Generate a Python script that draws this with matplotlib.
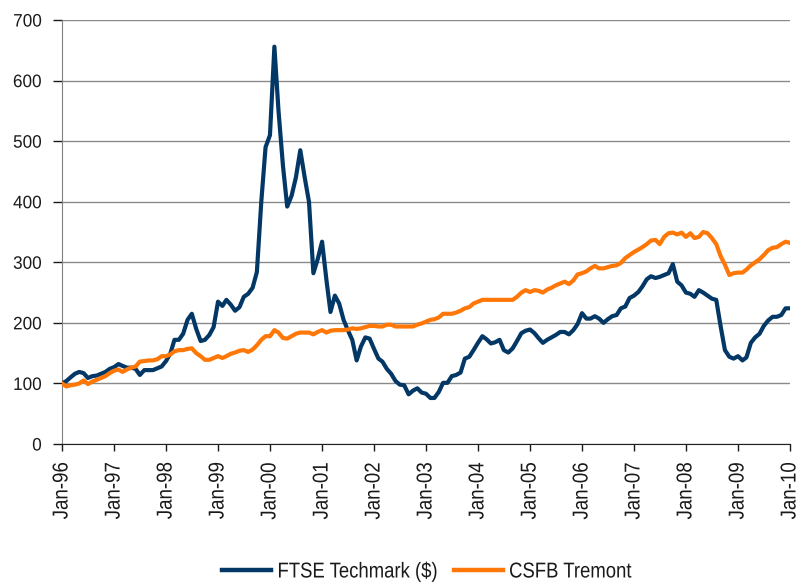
import matplotlib
matplotlib.use("Agg")
import matplotlib.pyplot as plt
import matplotlib.dates as mdates
from matplotlib.patheffects import AbstractPathEffect
from matplotlib.transforms import Affine2D
import pandas as pd

start_month = "1996-01-01"
n_months = 169

ftse_techmark = [
    100, 104, 110, 116, 119, 117, 109, 112, 113, 116, 119, 124,
    127, 132, 129, 126, 126, 124, 114, 122, 122, 122, 125, 128,
    137, 150, 172, 172, 182, 205, 215, 190, 170, 172, 180, 193,
    235, 228, 238, 230, 220, 226, 243, 248, 258, 284, 400, 490,
    510, 656, 550, 460, 392, 410, 440, 485, 440, 400, 282, 305,
    334, 270, 218, 245, 232, 205, 188, 172, 138, 161, 176, 174,
    157, 141, 136, 124, 116, 104, 98, 97, 82, 88, 92, 85,
    83, 76, 76, 86, 101, 101, 112, 114, 118, 141, 144, 155,
    167, 178, 173, 166, 168, 172, 155, 151, 158, 170, 183, 187,
    189, 183, 175, 167, 172, 176, 180, 185, 185, 181, 188, 198,
    216, 207, 207, 211, 207, 200, 206, 211, 213, 224, 227, 241,
    245, 251, 260, 272, 277, 274, 276, 279, 282, 297, 268, 262,
    250, 248, 243, 254, 250, 245, 240, 238, 194, 155, 144, 141,
    145, 138, 143, 167, 176, 182, 195, 204, 210, 210, 213, 224,
    224,
]

csfb_tremont = [
    100, 95, 97, 98, 100, 105, 99, 103, 106, 109, 112, 117,
    121, 123, 119, 123, 126, 128, 136, 137, 138, 138, 140, 145,
    145, 148, 153, 155, 155, 157, 158, 150, 145, 139, 139, 142,
    145, 142, 145, 149, 151, 154, 155, 152, 156, 163, 172, 178,
    178, 188, 184, 175, 174, 178, 182, 184, 184, 184, 181, 185,
    188, 184, 187, 188, 188, 188, 189, 191, 190, 191, 193, 195,
    195, 194, 194, 197, 197, 194, 194, 194, 194, 194, 197, 199,
    202, 205, 206, 209, 215, 215, 215, 217, 220, 224, 226, 232,
    235, 238, 238, 238, 238, 238, 238, 238, 238, 243, 250, 254,
    251, 254, 253, 250, 255, 258, 262, 265, 268, 264, 270, 280,
    282, 285, 290, 294, 290, 290, 292, 294, 295, 299, 307, 312,
    317, 321, 325, 330, 336, 337, 330, 342, 348, 349, 346, 349,
    342, 348, 340, 342, 350, 348, 340, 330, 310, 296, 279, 282,
    283, 283, 288, 295, 300, 305, 312, 320, 324, 325, 330, 334,
    332,
]

series_names = ["FTSE Techmark ($)", "CSFB Tremont"]
y_ticks = [0, 100, 200, 300, 400, 500, 600, 700]

dates = pd.date_range(start_month, periods=n_months, freq="MS")


class Squeeze(AbstractPathEffect):
    """Draw text glyphs horizontally condensed (narrow-font look)."""

    def __init__(self, sx, anchor="left"):
        super().__init__()
        self.sx = sx
        self.anchor = anchor

    def draw_path(self, renderer, gc, tpath, affine, rgbFace=None):
        ext = tpath.get_extents()
        if self.anchor == "right":
            x0 = ext.x1
        elif self.anchor == "center":
            x0 = 0.5 * (ext.x0 + ext.x1)
        else:
            x0 = ext.x0
        t = Affine2D().translate(-x0, 0).scale(self.sx, 1).translate(x0, 0)
        renderer.draw_path(gc, tpath, t + affine, rgbFace)


plt.rcParams["font.family"] = ["Liberation Sans", "DejaVu Sans"]

fig = plt.figure(figsize=(8.03, 5.82), dpi=100)
ax = fig.add_axes([0.0772, 0.2371, 0.9066, 0.7285])

ax.plot(dates, ftse_techmark, color="#033766", lw=3.0, label=series_names[0],
        solid_joinstyle="round", zorder=3)
ax.plot(dates, csfb_tremont, color="#FF7706", lw=3.0, label=series_names[1],
        solid_joinstyle="round", zorder=3)

ax.set_xlim(dates[0], dates[-1])
ax.set_ylim(0, 700)
ax.set_yticks(y_ticks)
ax.yaxis.grid(True, color="#8a8a8a", lw=1.0)
ax.set_axisbelow(True)

ax.xaxis.set_major_locator(mdates.YearLocator(1, month=1, day=1))
ax.xaxis.set_major_formatter(mdates.DateFormatter("%b-%y"))

ax.tick_params(axis="x", labelsize=15.5, colors="#1a1a1a", length=5,
               width=1, direction="out", pad=8, labelrotation=90)
ax.tick_params(axis="y", labelsize=13, colors="#1a1a1a", length=6.5,
               width=1, direction="out", pad=8)
for lbl in ax.get_xticklabels():
    lbl.set_path_effects([Squeeze(0.87, "right")])
for lbl in ax.get_yticklabels():
    lbl.set_path_effects([Squeeze(0.95, "right")])

for side in ["top", "right"]:
    ax.spines[side].set_visible(False)
ax.spines["left"].set_color("#808080")
ax.spines["bottom"].set_color("#202020")

leg = fig.legend(loc="center", bbox_to_anchor=(0.5436, 0.0172), ncol=2,
                 frameon=False, fontsize=15.5, handlelength=2.28,
                 handletextpad=0.28, columnspacing=-0.42, borderpad=0)
for line in leg.get_lines():
    line.set_linewidth(3.2)
for txt in leg.get_texts():
    txt.set_color("#1a1a1a")
    txt.set_path_effects([Squeeze(0.86, "left")])

fig.savefig("out.png", dpi=100)
